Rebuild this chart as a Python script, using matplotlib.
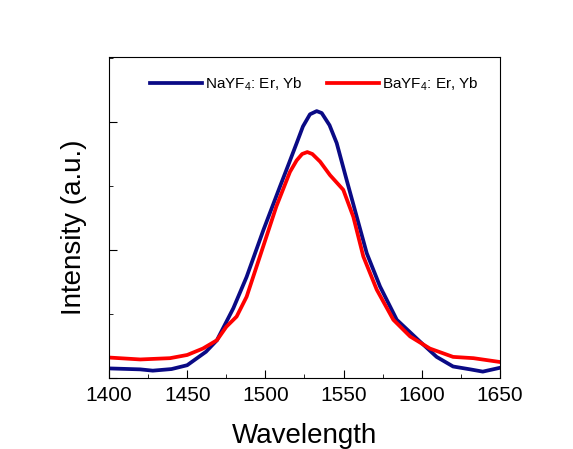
import matplotlib
matplotlib.use("Agg")
import matplotlib.pyplot as plt
from matplotlib.ticker import MultipleLocator

plt.rcParams['font.family'] = ['Liberation Sans Narrow', 'Liberation Sans', 'DejaVu Sans']
plt.rcParams['mathtext.default'] = 'regular'

# wavelength (nm) and intensity (a.u.)
wl_na = [1400, 1420, 1428, 1440, 1450, 1462, 1469, 1479.5, 1488, 1498.7, 1509.3, 1515,
         1520, 1524, 1528.5, 1532.8, 1536, 1541, 1545.6, 1552, 1558.4, 1564.8, 1573.3,
         1584, 1598.8, 1609.5, 1620, 1631, 1639, 1650]
int_na = [0.15, 0.135, 0.115, 0.14, 0.2, 0.41, 0.59, 1.09, 1.58, 2.31, 2.99, 3.35,
          3.67, 3.93, 4.12, 4.17, 4.14, 3.95, 3.67, 3.09, 2.52, 1.95, 1.43,
          0.91, 0.57, 0.33, 0.18, 0.135, 0.1, 0.16]

wl_ba = [1400, 1420, 1439, 1450, 1460, 1469, 1475, 1481.6, 1488, 1496.5, 1507, 1515.7,
         1520, 1523.5, 1526.8, 1530, 1535, 1541.3, 1549.8, 1556.2, 1562.6, 1571.2,
         1581.8, 1592.5, 1605.2, 1620, 1633, 1650]
int_ba = [0.32, 0.29, 0.31, 0.36, 0.46, 0.59, 0.8, 0.96, 1.27, 1.9, 2.68, 3.22,
          3.4, 3.5, 3.53, 3.5, 3.38, 3.17, 2.94, 2.52, 1.9, 1.38,
          0.91, 0.65, 0.46, 0.33, 0.31, 0.25]

labels = ['NaYF$_4$: Er, Yb', 'BaYF$_4$: Er, Yb']

fig = plt.figure(figsize=(5.73, 4.49), dpi=100)
ax = fig.add_axes([0.1902, 0.1581, 0.6824, 0.715])

ax.plot(wl_na, int_na, color='#0a0a85', lw=2.7, label=labels[0], solid_joinstyle='round')
ax.plot(wl_ba, int_ba, color='#ff0000', lw=2.7, label=labels[1], solid_joinstyle='round')

ax.set_xlim(1400, 1650)
ax.set_ylim(0, 5.0156)
ax.xaxis.set_major_locator(MultipleLocator(50))
ax.xaxis.set_minor_locator(MultipleLocator(25))
ax.yaxis.set_major_locator(MultipleLocator(2))
ax.yaxis.set_minor_locator(MultipleLocator(1))
ax.tick_params(which='both', direction='in', top=False, right=False)
ax.tick_params(which='major', length=6, labelsize=15, pad=6)
ax.tick_params(which='minor', length=3)
ax.tick_params(axis='y', labelleft=False)

ax.set_xlabel('Wavelength', fontsize=20, labelpad=13)
ax.set_ylabel('Intensity (a.u.)', fontsize=20)
ax.yaxis.set_label_coords(-0.055, 0.47)

ax.legend(loc='upper center', ncol=2, frameon=False, fontsize=11,
          handlelength=3.4, handletextpad=0.2, columnspacing=1.6,
          bbox_to_anchor=(0.525, 0.985))

fig.savefig('out.png', dpi=100)
